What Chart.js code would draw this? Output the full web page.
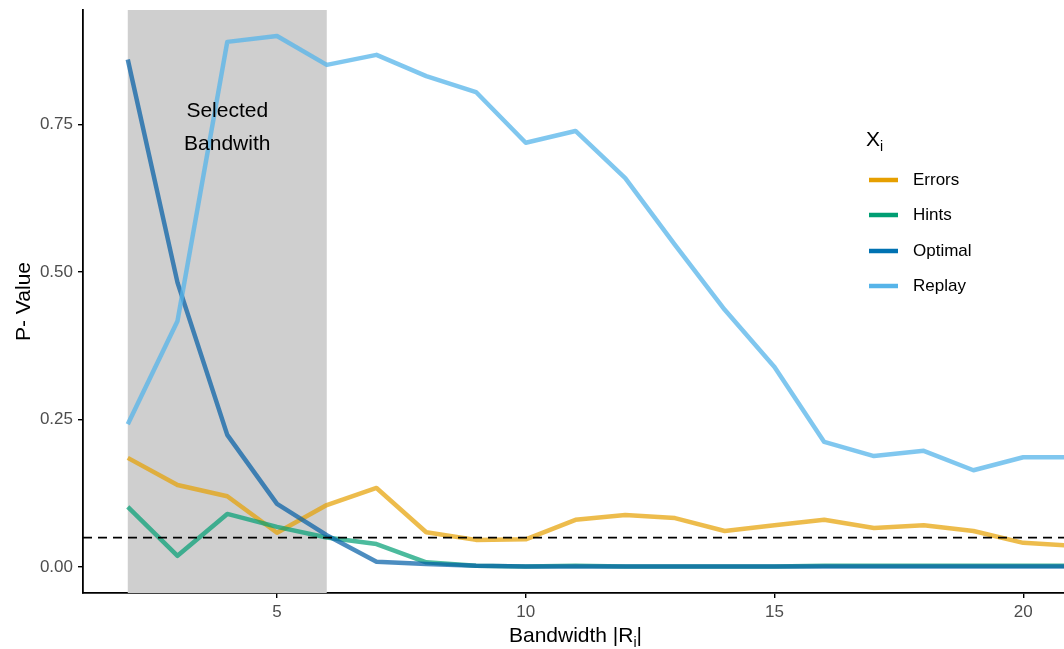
<!DOCTYPE html>
<html><head><meta charset="utf-8">
<script src="https://cdn.jsdelivr.net/npm/chart.js@4/dist/chart.umd.min.js"></script>
<style>html,body{margin:0;padding:0;background:#fff;overflow:hidden}#wrap{width:1064px;height:649px}</style>
</head><body><div id="wrap"><canvas id="c" width="1064" height="649"></canvas></div>
<script>
const bandwidth = [2,3,4,5,6,7,8,9,10,11,12,13,14,15,16,17,18,19,20,21];
const errors  = [0.185,0.139,0.120,0.058,0.105,0.134,0.059,0.046,0.047,0.080,0.088,0.083,0.061,0.071,0.080,0.066,0.071,0.061,0.041,0.036];
const hints   = [0.102,0.019,0.090,0.068,0.050,0.039,0.008,0.002,0.001,0.002,0.001,0.001,0.001,0.001,0.002,0.002,0.002,0.002,0.002,0.002];
const optimal = [0.860,0.482,0.224,0.107,0.054,0.009,0.005,0.002,0.001,0.001,0.001,0.001,0.001,0.001,0.001,0.001,0.001,0.001,0.001,0.001];
const replay  = [0.242,0.417,0.890,0.900,0.851,0.868,0.832,0.805,0.719,0.739,0.659,0.546,0.436,0.339,0.212,0.188,0.197,0.164,0.186,0.186];
const seriesNames = ["Errors","Hints","Optimal","Replay"];
const yTicks = [0, 0.25, 0.5, 0.75];
const yTickLabels = ["0.00","0.25","0.50","0.75"];
const xTicks = [5, 10, 15, 20];
const selectedBand = [2, 6];
const threshold = 0.05;

const FONT = "'Liberation Sans', Arial, Helvetica, sans-serif";
const solid = ["#E69F00","#009E73","#0072B2","#56B4E9"];
const faded = ["rgba(230,159,0,0.7)","rgba(0,158,115,0.7)","rgba(0,92,165,0.7)","rgba(86,180,233,0.75)"];
const allSeries = [errors, hints, optimal, replay];

function pts(arr){ return bandwidth.map((b,i)=>({x:b,y:arr[i]})); }

function drawSub(ctx, parts, x, y, align){
  let total = 0;
  const widths = parts.map(p=>{ ctx.font = p[2]+"px " + FONT; const w = ctx.measureText(p[0]).width; total += w; return w; });
  let cx = align === 'center' ? x - total/2 : x;
  parts.forEach((p,i)=>{
    ctx.font = p[2] + "px " + FONT;
    ctx.textAlign = 'left';
    ctx.fillText(p[0], cx, y + (p[1] ? 5 : 0));
    cx += widths[i];
  });
}

const decor = {
  id: 'decor',
  beforeDatasetsDraw(chart){
    const {ctx, chartArea:a, scales:{x}} = chart;
    const x0 = x.getPixelForValue(selectedBand[0]), x1 = x.getPixelForValue(selectedBand[1]);
    ctx.save();
    ctx.fillStyle = '#CFCFCF';
    ctx.fillRect(x0, a.top, x1 - x0, a.bottom - a.top);
    ctx.restore();
  },
  afterDatasetsDraw(chart){
    const {ctx, chartArea:a, scales:{x,y}} = chart;
    ctx.save();
    const ty = y.getPixelForValue(threshold);
    ctx.beginPath();
    ctx.setLineDash([9,6]);
    ctx.strokeStyle = '#000';
    ctx.lineWidth = 1.8;
    ctx.moveTo(a.left, ty); ctx.lineTo(a.right, ty);
    ctx.stroke();
    ctx.setLineDash([]);
    ctx.fillStyle = '#000';
    ctx.font = "21px " + FONT;
    ctx.textAlign = 'center';
    ctx.textBaseline = 'alphabetic';
    const cx = x.getPixelForValue((selectedBand[0]+selectedBand[1])/2);
    ctx.fillText('Selected', cx, 117);
    ctx.fillText('Bandwith', cx, 150);
    drawSub(ctx, [['X',false,21],['i',true,14]], 866, 146, 'left');
    const rows = [180, 215, 251, 286];
    seriesNames.forEach((n,i)=>{
      ctx.strokeStyle = solid[i];
      ctx.lineWidth = 4.5;
      ctx.beginPath();
      ctx.moveTo(869, rows[i]); ctx.lineTo(898, rows[i]);
      ctx.stroke();
      ctx.fillStyle = '#000';
      ctx.font = "17px " + FONT;
      ctx.textAlign = 'left';
      ctx.textBaseline = 'middle';
      ctx.fillText(n, 913, rows[i]);
    });
    ctx.textBaseline = 'alphabetic';
    ctx.fillStyle = '#000';
    drawSub(ctx, [['Bandwidth |R',false,21],['i',true,14],['|',false,21]], (a.left+a.right)/2 + 2, 642, 'center');
    ctx.save();
    ctx.translate(30, (a.top + a.bottom)/2);
    ctx.rotate(-Math.PI/2);
    ctx.font = "21px " + FONT;
    ctx.textAlign = 'center';
    ctx.fillText('P- Value', 0, 0);
    ctx.restore();
    ctx.restore();
  }
};

const axisCommon = {
  type: 'linear',
  grid: { display: true, drawOnChartArea: false, drawTicks: true, tickLength: 5, color: '#000', lineWidth: 1.4 },
  border: { display: true, color: '#000', width: 1.8 },
  ticks: { color: '#4D4D4D', font: { family: FONT, size: 17 } }
};

new Chart(document.getElementById('c'), {
  type: 'line',
  data: {
    datasets: seriesNames.map((n,i)=>({
      label: n,
      data: pts(allSeries[i]),
      borderColor: faded[i],
      backgroundColor: faded[i],
      borderWidth: 4.5,
      pointRadius: 0,
      tension: 0,
      fill: false,
      borderJoinStyle: 'round',
      order: 4 - i
    }))
  },
  options: {
    responsive: false,
    devicePixelRatio: 1,
    animation: false,
    layout: { padding: { top: 10, right: 0, left: 0, bottom: 0 } },
    plugins: { legend: { display: false }, tooltip: { enabled: false } },
    scales: {
      x: Object.assign({}, axisCommon, {
        min: 1.1, max: 20.82,
        afterBuildTicks(s){ s.ticks = xTicks.map(v=>({value:v})); },
        afterFit(s){ s.height = 56; s.paddingLeft = 0; s.paddingRight = 0; },
        ticks: Object.assign({}, axisCommon.ticks, { padding: 4, maxRotation: 0, callback: v => String(v) })
      }),
      y: Object.assign({}, axisCommon, {
        min: -0.044, max: 0.944,
        afterBuildTicks(s){ s.ticks = yTicks.map(v=>({value:v})); },
        afterFit(s){ s.width = 83; s.paddingTop = 0; s.paddingBottom = 0; },
        ticks: Object.assign({}, axisCommon.ticks, { padding: 5, callback: v => yTickLabels[yTicks.indexOf(v)] })
      })
    }
  },
  plugins: [decor]
});
</script>
</body></html>
